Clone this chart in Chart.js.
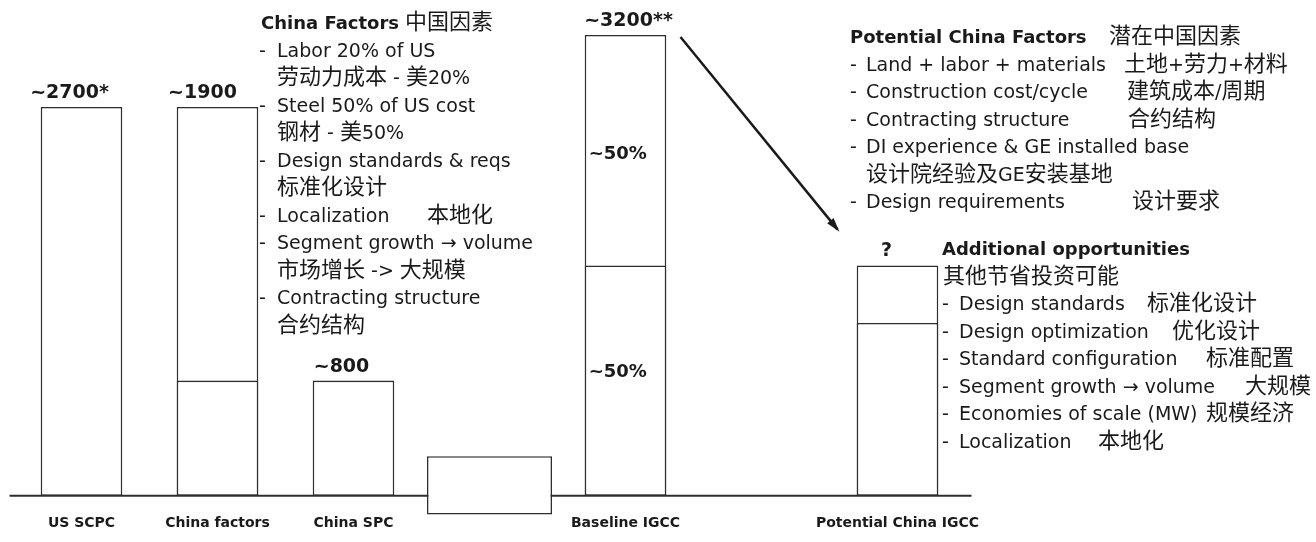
<!DOCTYPE html>
<html>
<head>
<meta charset="utf-8">
<script src="https://cdn.jsdelivr.net/npm/chart.js"></script>
<style>
  html, body { margin: 0; padding: 0; background: #fff; }
  #wrap { width: 1316px; height: 542px; }
</style>
</head>
<body>
<div id="wrap"><canvas id="myChart"></canvas></div>
<script>
// categories (two empty slots keep the gaps of the original layout)
const categories = ["US SCPC", "China factors", "China SPC", "", "Baseline IGCC", "", "Potential China IGCC"];
// full bar heights, the inner split line and the floating box
const totals = [2700, 2700, 800, null, 3200, null, 1600];
const splits = [null, 800, null, null, 1600, null, 1200];
const gapBox = [null, null, null, [-130, 275], null, null, null];
const valueLabels = ["~2700*", "~1900", "~800", "", "~3200**", "", "?"];
const shareLabels = ["~50%", "~50%"];

const chinaFactors = [
  { t: "China Factors", cn: "中国因素", bold: true },
  { t: "Labor 20% of US", dash: true },
  { t: "劳动力成本 - 美20%" },
  { t: "Steel 50% of US cost", dash: true },
  { t: "钢材 - 美50%" },
  { t: "Design standards & reqs", dash: true },
  { t: "标准化设计" },
  { t: "Localization", cn: "本地化", dash: true },
  { t: "Segment growth → volume", dash: true },
  { t: "市场增长 -> 大规模" },
  { t: "Contracting structure", dash: true },
  { t: "合约结构" }
];
const potentialFactors = [
  { t: "Potential China Factors", cn: "潜在中国因素", bold: true },
  { t: "Land + labor + materials", cn: "土地+劳力+材料", dash: true },
  { t: "Construction cost/cycle", cn: "建筑成本/周期", dash: true },
  { t: "Contracting structure", cn: "合约结构", dash: true },
  { t: "DI experience & GE installed base", dash: true },
  { t: "设计院经验及GE安装基地" },
  { t: "Design requirements", cn: "设计要求", dash: true }
];
const extraOpps = [
  { t: "Additional opportunities", bold: true },
  { t: "其他节省投资可能" },
  { t: "Design standards", cn: "标准化设计", dash: true },
  { t: "Design optimization", cn: "优化设计", dash: true },
  { t: "Standard configuration", cn: "标准配置", dash: true },
  { t: "Segment growth → volume", cn: "大规模", dash: true },
  { t: "Economies of scale (MW)", cn: "规模经济", dash: true },
  { t: "Localization", cn: "本地化", dash: true }
];

const INK = "#1a1a1a";
const LINE = "#2e2e2e";
const LATIN = "\"DejaVu Sans\"";
const CJK = "\"Noto Sans CJK SC\"";

function isCJK(ch) {
  return /[\u3000-\u9fff\uff00-\uffef]/.test(ch);
}

// draws a string, switching font between latin and chinese runs
function drawMixed(ctx, str, x, y, size, bold) {
  let runs = [];
  for (const ch of str) {
    const c = isCJK(ch);
    if (runs.length && runs[runs.length - 1].c === c) runs[runs.length - 1].s += ch;
    else runs.push({ c: c, s: ch });
  }
  for (const r of runs) {
    if (r.c) ctx.font = (bold ? "bold " : "") + Math.round(size * 1.15) + "px " + CJK;
    else ctx.font = (bold ? "bold " : "") + size + "px " + LATIN;
    ctx.fillText(r.s, x, y);
    x += ctx.measureText(r.s).width;
  }
}

function drawBlock(ctx, lines, opt) {
  lines.forEach(function (ln, i) {
    const y = opt.y0 + i * opt.step;
    if (ln.dash) drawMixed(ctx, "-", opt.dashX, y, 19, false);
    const x = ln.bold ? opt.titleX : opt.textX;
    drawMixed(ctx, ln.t, x, y, ln.bold ? 18 : 19, ln.bold);
    if (ln.cn) {
      drawMixed(ctx, ln.cn, opt.cnX[i], y, 19, false);
    }
  });
}

const notesPlugin = {
  id: "notes",
  beforeDatasetsDraw(chart) {
    // zero line, drawn under the bars so the floating box hides it
    const ctx = chart.ctx;
    const a = chart.chartArea;
    const y = chart.scales.y.getPixelForValue(0);
    ctx.save();
    ctx.strokeStyle = LINE;
    ctx.lineWidth = 2;
    ctx.beginPath();
    ctx.moveTo(a.left - 4, y);
    ctx.lineTo(a.right + 6, y);
    ctx.stroke();
    ctx.restore();
  },
  afterDraw(chart) {
    const ctx = chart.ctx;
    const ys = chart.scales.y;
    const bars = chart.getDatasetMeta(1).data;
    ctx.save();
    ctx.fillStyle = INK;
    ctx.strokeStyle = INK;
    ctx.textBaseline = "alphabetic";

    // labels on top of bars
    const dx = [-12, -15, -12, 0, 3, 0, -11];
    ctx.textAlign = "center";
    ctx.font = "bold 19px " + LATIN;
    valueLabels.forEach(function (lab, i) {
      if (!lab) return;
      ctx.fillText(lab, bars[i].x + dx[i], ys.getPixelForValue(totals[i]) - 9);
    });

    // ~50% inside baseline IGCC
    ctx.textAlign = "left";
    ctx.font = "bold 18px " + LATIN;
    const left = bars[4].x - bars[4].width / 2;
    ctx.fillText(shareLabels[0], left + 4, ys.getPixelForValue(2400) + 9);
    ctx.fillText(shareLabels[1], left + 4, ys.getPixelForValue(850) + 4);

    // text blocks
    drawBlock(ctx, chinaFactors, {
      y0: 29, step: 27.5, dashX: 259, textX: 277, titleX: 261,
      cnX: { 0: 405, 7: 427 }
    });
    drawBlock(ctx, potentialFactors, {
      y0: 43, step: 27.5, dashX: 850, textX: 866, titleX: 850,
      cnX: { 0: 1109, 1: 1124, 2: 1127, 3: 1128, 6: 1132 }
    });
    drawMixed(ctx, extraOpps[0].t, 942, 255, 18, true);
    drawMixed(ctx, extraOpps[1].t, 943, 283, 19, false);
    drawBlock(ctx, extraOpps.slice(2), {
      y0: 310, step: 27.5, dashX: 942, textX: 959, titleX: 959,
      cnX: { 0: 1147, 1: 1172, 2: 1206, 3: 1245, 4: 1206, 5: 1098 }
    });

    // arrow from baseline IGCC toward potential China IGCC
    const x0 = bars[4].x + 55, y0 = ys.getPixelForValue(3200) + 2;
    const x1 = bars[6].x - 60, y1 = ys.getPixelForValue(1850);
    ctx.lineWidth = 2.5;
    ctx.beginPath();
    ctx.moveTo(x0, y0);
    ctx.lineTo(x1, y1);
    ctx.stroke();
    const a = Math.atan2(y1 - y0, x1 - x0);
    ctx.beginPath();
    ctx.moveTo(x1 + 3 * Math.cos(a), y1 + 3 * Math.sin(a));
    ctx.lineTo(x1 - 12 * Math.cos(a - 0.35), y1 - 12 * Math.sin(a - 0.35));
    ctx.lineTo(x1 - 12 * Math.cos(a + 0.35), y1 - 12 * Math.sin(a + 0.35));
    ctx.closePath();
    ctx.fill();
    ctx.restore();
  }
};

document.addEventListener("DOMContentLoaded", function () {
  const ctx = document.getElementById("myChart");
  const barStyle = {
    grouped: false,
    backgroundColor: "#fff",
    borderColor: LINE,
    borderWidth: 1.6,
    borderSkipped: false,
    barPercentage: 0.6,
    categoryPercentage: 1
  };
  new Chart(ctx, {
    type: "bar",
    data: {
      labels: categories,
      datasets: [
        Object.assign({ data: splits }, barStyle),
        Object.assign({ data: totals }, barStyle),
        Object.assign({ data: gapBox }, barStyle, { barPercentage: 0.92, clip: false })
      ]
    },
    options: {
      responsive: true,
      maintainAspectRatio: false,
      animation: false,
      layout: { padding: { left: 13.5, right: 350.5, top: 0, bottom: 10 } },
      plugins: {
        legend: { display: false },
        tooltip: { enabled: false },
        title: { display: false }
      },
      scales: {
        x: {
          grid: { display: false, drawTicks: false },
          border: { display: false },
          ticks: {
            autoSkip: false,
            maxRotation: 0,
            padding: 0,
            color: INK,
            font: { family: "DejaVu Sans", weight: "bold", size: 14 }
          }
        },
        y: {
          display: false,
          min: -135,
          max: 3443
        }
      }
    },
    plugins: [notesPlugin]
  });
});
</script>
</body>
</html>
